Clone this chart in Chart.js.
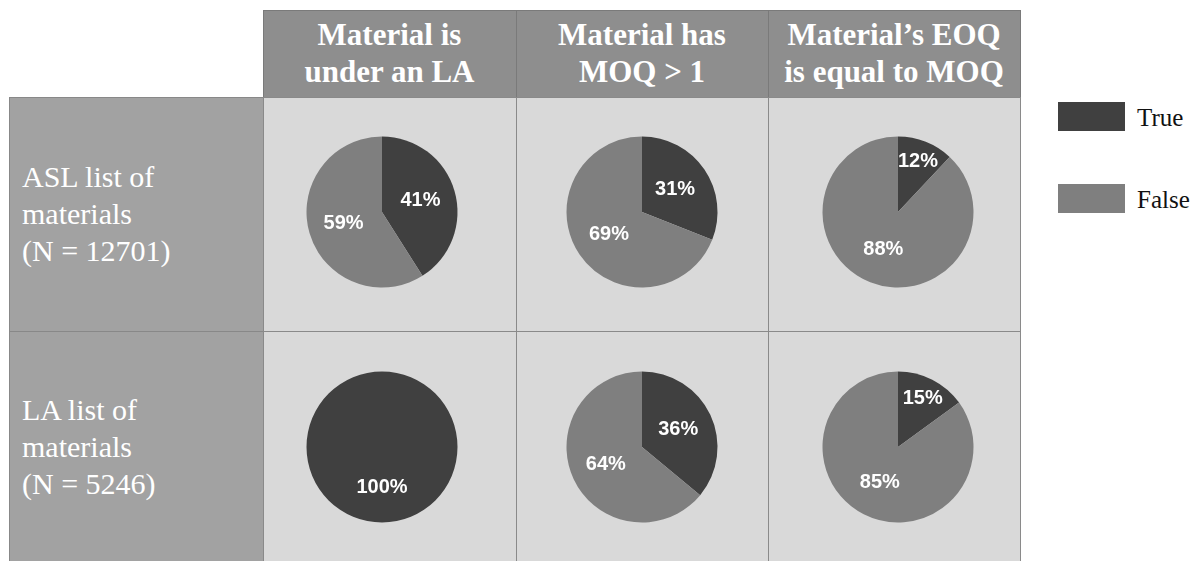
<!DOCTYPE html>
<html>
<head>
<meta charset="utf-8">
<script src="https://cdn.jsdelivr.net/npm/chart.js@4"></script>
<style>
  html, body { margin: 0; padding: 0; background: #ffffff; }
  #page { position: relative; width: 1201px; height: 561px; overflow: hidden; }
  .box { position: absolute; box-sizing: border-box; }
  .colHead { background: #8e8e8e; border: 1px solid #7a7a7a; }
  .rowHead { background: #a2a2a2; border: 1px solid #888888; }
  .cell { background: #d9d9d9; border: 1px solid #8a8a8a; }
  .colText { position: absolute; color: #ffffff; font-family: "Liberation Serif", "Times New Roman", serif;
             font-weight: bold; font-size: 31px; line-height: 37px; text-align: center; white-space: nowrap; }
  .rowText { position: absolute; color: #ffffff; font-family: "Liberation Serif", "Times New Roman", serif;
             font-size: 30px; line-height: 37px; white-space: nowrap; }
  .swatch { position: absolute; width: 67px; height: 29px; }
  .legText { position: absolute; color: #111111; font-family: "Liberation Serif", "Times New Roman", serif;
             font-size: 25px; line-height: 30px; white-space: nowrap; }
  canvas.pie { position: absolute; }
</style>
</head>
<body>
<div id="page"></div>
<script>
// valores de cada gráfico (porcentaje de materiales)
const columnLabels = [
  ['Material is', 'under an LA'],
  ['Material has', 'MOQ > 1'],
  ['Material\u2019s EOQ', 'is equal to MOQ']
];
const rowLabels = [
  ['ASL list of', 'materials', '(N = 12701)'],
  ['LA list of', 'materials', '(N = 5246)']
];
const seriesNames = ['True', 'False'];
const truePct = [
  [41, 31, 12],
  [100, 36, 15]
];
const falsePct = [
  [59, 69, 88],
  [0, 64, 85]
];
const seriesColors = ['#404040', '#7f7f7f'];

// rejilla de la tabla
const colX = [263, 516, 768, 1020];
const rowY = [97, 331, 575];
const pieCX = [382, 642, 898];
const pieCY = [212, 447];
const pieRadius = 75.5;

const page = document.getElementById('page');

function addBox(cls, x, y, w, h) {
  const d = document.createElement('div');
  d.className = 'box ' + cls;
  d.style.left = x + 'px';
  d.style.top = y + 'px';
  d.style.width = w + 'px';
  d.style.height = h + 'px';
  page.appendChild(d);
  return d;
}

// cabeceras de columna
columnLabels.forEach((lines, c) => {
  addBox('colHead', colX[c], 10, colX[c + 1] - colX[c] + 1, 88);
  const t = document.createElement('div');
  t.className = 'colText';
  t.style.left = colX[c] + 'px';
  t.style.width = (colX[c + 1] - colX[c]) + 'px';
  t.style.top = '16px';
  t.innerHTML = lines.join('<br>');
  page.appendChild(t);
});

// cabeceras de fila
rowLabels.forEach((lines, r) => {
  addBox('rowHead', 9, rowY[r], colX[0] - 9 + 1, rowY[r + 1] - rowY[r] + 1);
  const t = document.createElement('div');
  t.className = 'rowText';
  t.style.left = '22px';
  t.style.top = (r === 0 ? 158 : 391) + 'px';
  t.innerHTML = lines.join('<br>');
  page.appendChild(t);
});

// etiquetas de porcentaje dentro de cada sector
const pctLabels = {
  id: 'pctLabels',
  afterDatasetsDraw(chart) {
    const ctx = chart.ctx;
    const meta = chart.getDatasetMeta(0);
    const values = chart.data.datasets[0].data;
    ctx.save();
    ctx.fillStyle = '#ffffff';
    ctx.font = 'bold 20px "Liberation Sans", Arial, sans-serif';
    ctx.textAlign = 'center';
    ctx.textBaseline = 'middle';
    meta.data.forEach((arc, i) => {
      const v = values[i];
      if (!v) return;
      const p = arc.getProps(['x', 'y', 'startAngle', 'endAngle', 'outerRadius'], true);
      const mid = (p.startAngle + p.endAngle) / 2;
      const f = v < 20 ? 0.72 : 0.53;
      const x = p.x + Math.cos(mid) * p.outerRadius * f;
      const y = p.y + Math.sin(mid) * p.outerRadius * f;
      ctx.fillText(v + '%', x, y);
    });
    ctx.restore();
  }
};

// celdas con los gráficos de tarta
for (let r = 0; r < 2; r++) {
  for (let c = 0; c < 3; c++) {
    addBox('cell', colX[c], rowY[r], colX[c + 1] - colX[c] + 1, rowY[r + 1] - rowY[r] + 1);
    const cv = document.createElement('canvas');
    cv.className = 'pie';
    cv.width = 180;
    cv.height = 180;
    cv.style.left = (pieCX[c] - 90) + 'px';
    cv.style.top = (pieCY[r] - 90) + 'px';
    page.appendChild(cv);
    new Chart(cv.getContext('2d'), {
      type: 'pie',
      data: {
        labels: seriesNames,
        datasets: [{
          data: [truePct[r][c], falsePct[r][c]],
          backgroundColor: seriesColors,
          borderWidth: 0
        }]
      },
      options: {
        responsive: false,
        animation: false,
        radius: pieRadius,
        layout: { padding: 0 },
        plugins: { legend: { display: false }, tooltip: { enabled: false } }
      },
      plugins: [pctLabels]
    });
  }
}

// leyenda
const legendY = [102, 184];
seriesNames.forEach((name, i) => {
  const s = document.createElement('div');
  s.className = 'swatch';
  s.style.left = '1058px';
  s.style.top = legendY[i] + 'px';
  s.style.background = seriesColors[i];
  page.appendChild(s);
  const t = document.createElement('div');
  t.className = 'legText';
  t.style.left = '1137px';
  t.style.top = (legendY[i] + 1) + 'px';
  t.textContent = name;
  page.appendChild(t);
});
</script>
</body>
</html>
